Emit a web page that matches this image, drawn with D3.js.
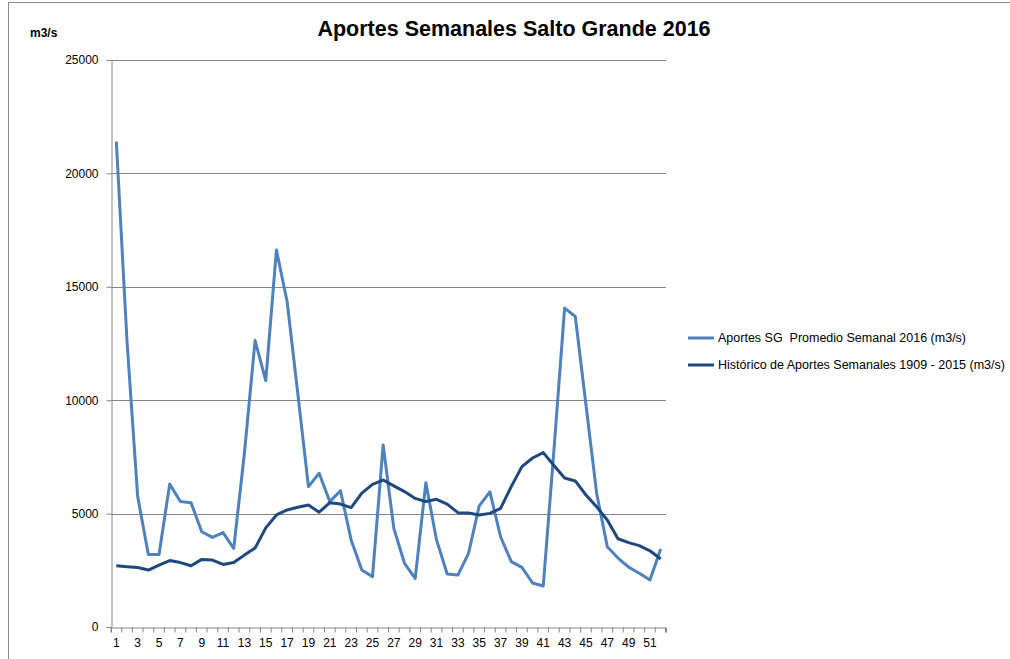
<!DOCTYPE html>
<html>
<head>
<meta charset="utf-8">
<script src="https://cdn.jsdelivr.net/npm/d3@7"></script>
<style>
  body { margin: 0; background: #fff; }
  svg { font-family: "Liberation Sans Narrow", "Liberation Sans", Arial, sans-serif; }
</style>
</head>
<body>
<svg id="chart" width="1010" height="659"></svg>
<script>
// semanas 1..52
const weeks = d3.range(1, 53);
const aportes2016 = [21400, 12600, 5750, 3200, 3200, 6300, 5530, 5480, 4200, 3950,
                     4160, 3470, 7660, 12630, 10860, 16620, 14350, 10300, 6190, 6780,
                     5530, 6010, 3840, 2510, 2220, 8030, 4350, 2810, 2140, 6360,
                     3840, 2340, 2290, 3250, 5340, 5960, 3980, 2880, 2630, 1940,
                     1810, 7800, 14060, 13690, 9800, 5900, 3540, 3040, 2640, 2370,
                     2070, 3440];
const historico = [2700, 2660, 2620, 2510, 2730, 2930, 2840, 2700, 2980, 2950,
                   2760, 2840, 3170, 3480, 4370, 4940, 5160, 5280, 5380, 5060,
                   5480, 5420, 5260, 5900, 6290, 6480, 6220, 5970, 5670, 5530,
                   5630, 5420, 5040, 5030, 4940, 5010, 5230, 6190, 7070, 7450,
                   7690, 7120, 6570, 6440, 5820, 5300, 4720, 3890, 3720, 3590,
                   3360, 3000];
const yTicks = [0, 5000, 10000, 15000, 20000, 25000];
const seriesNames = ["Aportes SG  Promedio Semanal 2016 (m3/s)",
                     "Histórico de Aportes Semanales 1909 - 2015 (m3/s)"];
const seriesColors = ["#4F81BD", "#1F497D"];

const svg = d3.select("#chart");
const plotL = 111, plotR = 666, plotT = 60, plotB = 627;

// marco
svg.append("rect")
  .attr("x", 8.5).attr("y", 2.5)
  .attr("width", 1100).attr("height", 700)
  .attr("fill", "none").attr("stroke", "#8c8c8c").attr("stroke-width", 1);

const x = d3.scaleBand().domain(weeks).range([plotL, plotR]);
const y = d3.scaleLinear().domain([0, 25000]).range([plotB, plotT]);

// grilla
svg.append("g").selectAll("line")
  .data(yTicks.slice(1))
  .join("line")
  .attr("x1", plotL).attr("x2", plotR)
  .attr("y1", d => Math.round(y(d)) + 0.5).attr("y2", d => Math.round(y(d)) + 0.5)
  .attr("stroke", "#868686");

// eje y
const yAxis = svg.append("g")
  .attr("transform", `translate(${plotL + 0.5},0)`)
  .call(d3.axisLeft(y).tickValues(yTicks).tickSize(5).tickPadding(8).tickFormat(d3.format("d")));
yAxis.select(".domain").attr("stroke", "#868686");
yAxis.selectAll(".tick line").attr("stroke", "#868686");
yAxis.selectAll(".tick text").attr("font-size", 12).attr("fill", "#000");

// eje x
const xAxis = svg.append("g")
  .attr("transform", `translate(0,${plotB + 0.5})`)
  .call(d3.axisBottom(x).tickSize(5).tickPadding(6).tickFormat(d => d % 2 === 1 ? d : ""));
xAxis.select(".domain").attr("stroke", "#868686");
xAxis.selectAll(".tick line")
  .attr("stroke", "#868686")
  .attr("transform", `translate(${-x.bandwidth() / 2},0)`);
xAxis.selectAll(".tick text").attr("font-size", 12).attr("fill", "#000");
xAxis.append("line")
  .attr("x1", plotR - 0.5).attr("x2", plotR - 0.5)
  .attr("y1", 0).attr("y2", 5).attr("stroke", "#868686");

// lineas
const line = d3.line()
  .x((d, i) => x(weeks[i]) + x.bandwidth() / 2)
  .y(d => y(d));

[aportes2016, historico].forEach((s, k) => {
  svg.append("path")
    .datum(s)
    .attr("fill", "none")
    .attr("stroke", seriesColors[k])
    .attr("stroke-width", 3)
    .attr("stroke-linejoin", "round")
    .attr("d", line);
});

// titulo
svg.append("text")
  .attr("x", 514).attr("y", 36)
  .attr("text-anchor", "middle")
  .attr("font-size", 21.5).attr("font-weight", "bold")
  .text("Aportes Semanales Salto Grande 2016");

svg.append("text")
  .attr("x", 30).attr("y", 37)
  .attr("font-size", 12).attr("font-weight", "bold")
  .text("m3/s");

// leyenda
const legend = svg.append("g").selectAll("g")
  .data(seriesNames)
  .join("g")
  .attr("transform", (d, i) => `translate(688,${338 + i * 27})`);
legend.append("line")
  .attr("x1", 0).attr("x2", 26)
  .attr("stroke", (d, i) => seriesColors[i]).attr("stroke-width", 3);
legend.append("text")
  .attr("x", 30).attr("y", 4)
  .attr("font-size", 12.5)
  .attr("xml:space", "preserve")
  .text(d => d);
</script>
</body>
</html>
